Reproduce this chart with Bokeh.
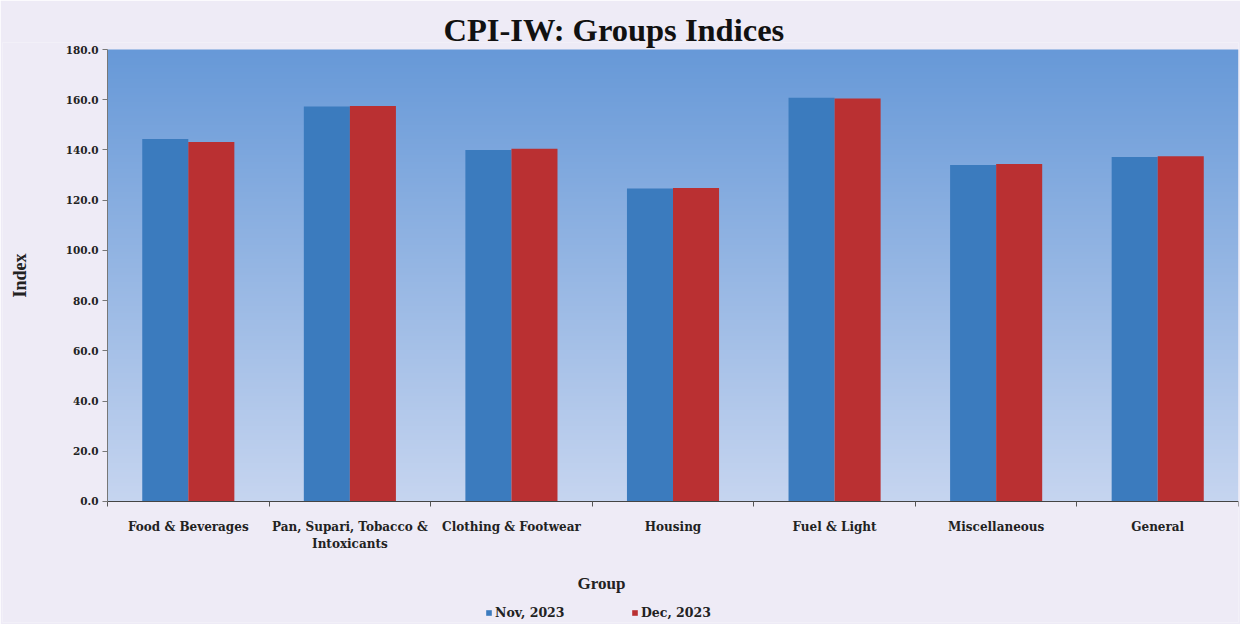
import numpy as np
from bokeh.plotting import figure
from bokeh.models import (Range1d, FixedTicker, NumeralTickFormatter, Legend,
                          LegendItem, Title, Label, ColumnDataSource)
from bokeh.transform import dodge
from bokeh.embed import file_html
from bokeh.resources import INLINE

# ---- data ----
groups = ["Food & Beverages", "Pan, Supari, Tobacco &\nIntoxicants",
          "Clothing & Footwear", "Housing", "Fuel & Light",
          "Miscellaneous", "General"]
nov_2023 = [144.4, 157.3, 140.0, 124.6, 160.8, 134.0, 137.2]
dec_2023 = [143.2, 157.5, 140.5, 124.8, 160.5, 134.4, 137.5]
series_names = ["Nov, 2023", "Dec, 2023"]
y_ticks = [0, 20, 40, 60, 80, 100, 120, 140, 160, 180]

# ---- styles / layout ----
BLUE = "#3B7BBE"
RED = "#BA3032"
PAGE = "#EEEBF6"
TFONT = "Liberation Serif"
LFONT = "DejaVu Serif"
TXT = "#222222"
Y_BELOW = 48.19  # room below zero (value units) for category labels & legend
Y_ABOVE = 2.79   # room above the top tick so its label is not clipped
X_LEFT = 0.65    # room left of first group (category units) for y labels

pos = [i + 0.5 for i in range(len(groups))]
src = ColumnDataSource(dict(pos=pos, nov=nov_2023, dec=dec_2023))

p = figure(width=1240, height=624, output_backend="svg", toolbar_location=None,
           x_range=Range1d(-X_LEFT, len(groups)),
           y_range=Range1d(y_ticks[0] - Y_BELOW, y_ticks[-1] + Y_ABOVE),
           min_border_left=2, min_border_right=2, min_border_top=42,
           min_border_bottom=2)
p.border_fill_color = PAGE
p.background_fill_color = PAGE
p.outline_line_color = None
p.xgrid.visible = False
p.ygrid.visible = False

# gradient background of the plot area
n = 256
t = np.linspace(0, 1, n)
bot = np.array([198, 213, 240])
top = np.array([103, 153, 216])
img = np.empty((n, 1), dtype=np.uint32)
view = img.view(dtype=np.uint8).reshape((n, 1, 4))
for k in range(3):
    view[:, 0, k] = (bot[k] + (top[k] - bot[k]) * t).astype(np.uint8)
view[:, 0, 3] = 255
p.image_rgba(image=[img], x=0, y=y_ticks[0], dw=len(groups), dh=y_ticks[-1] - y_ticks[0])

bw = 0.285
r1 = p.vbar(x=dodge("pos", -bw / 2, range=p.x_range), top="nov", width=bw,
            source=src, fill_color=BLUE, line_color=None)
r2 = p.vbar(x=dodge("pos", bw / 2, range=p.x_range), top="dec", width=bw,
            source=src, fill_color=RED, line_color=None)

# y axis at x = 0
ya = p.yaxis[0]
ya.fixed_location = 0
ya.bounds = (y_ticks[0], y_ticks[-1])
ya.ticker = FixedTicker(ticks=y_ticks, minor_ticks=[])
ya.formatter = NumeralTickFormatter(format="0.0")
ya.major_label_text_font = LFONT
ya.major_label_text_font_style = "bold"
ya.major_label_text_font_size = "10.5px"
ya.major_label_text_color = TXT
ya.major_tick_out = 5
ya.major_tick_in = 0
ya.major_label_standoff = 4
ya.axis_line_color = "#777777"
ya.major_tick_line_color = "#777777"

# x axis at zero: labels at centres, ticks at boundaries
xa = p.xaxis[0]
xa.fixed_location = 0
xa.bounds = (0, len(groups))
xa.ticker = FixedTicker(ticks=pos, minor_ticks=list(range(len(groups) + 1)))
xa.major_label_overrides = {pv: g for pv, g in zip(pos, groups)}
xa.major_label_text_font = LFONT
xa.major_label_text_font_style = "bold"
xa.major_label_text_font_size = "12px"
xa.major_label_text_color = TXT
xa.major_tick_line_color = None
xa.major_tick_out = 5
xa.major_label_standoff = 14
xa.minor_tick_out = 5
xa.minor_tick_in = 0
xa.minor_tick_line_color = "#555555"
xa.axis_line_color = "#444444"

# title
p.add_layout(Title(text="CPI-IW: Groups Indices", align="left", offset=441,
                   text_font=TFONT, text_font_style="bold", text_font_size="32.5px",
                   text_color="#111111", standoff=-10), "above")

# axis titles
p.add_layout(Label(text="Index", x=17, y=347, x_units="screen", y_units="screen",
                   angle=np.pi / 2, text_font=TFONT, text_font_style="bold",
                   text_font_size="18px", text_color=TXT,
                   text_align="center", text_baseline="middle"))
p.add_layout(Label(text="Group", x=575, y=39, x_units="screen", y_units="screen",
                   text_font=TFONT, text_font_style="bold", text_font_size="17px",
                   text_color=TXT, text_align="left", text_baseline="middle"))

legend = Legend(items=[LegendItem(label=series_names[0], renderers=[r1]),
                       LegendItem(label=series_names[1], renderers=[r2])],
                orientation="horizontal", location=(483, 2),
                glyph_width=7, glyph_height=7, label_standoff=3,
                label_width=70, spacing=66,
                label_text_font=LFONT, label_text_font_style="bold",
                label_text_font_size="12.5px", label_text_color=TXT,
                background_fill_alpha=0, border_line_color=None,
                padding=2, margin=0, label_height=12)
p.add_layout(legend)

open("out.html", "w").write(file_html(p, INLINE))
